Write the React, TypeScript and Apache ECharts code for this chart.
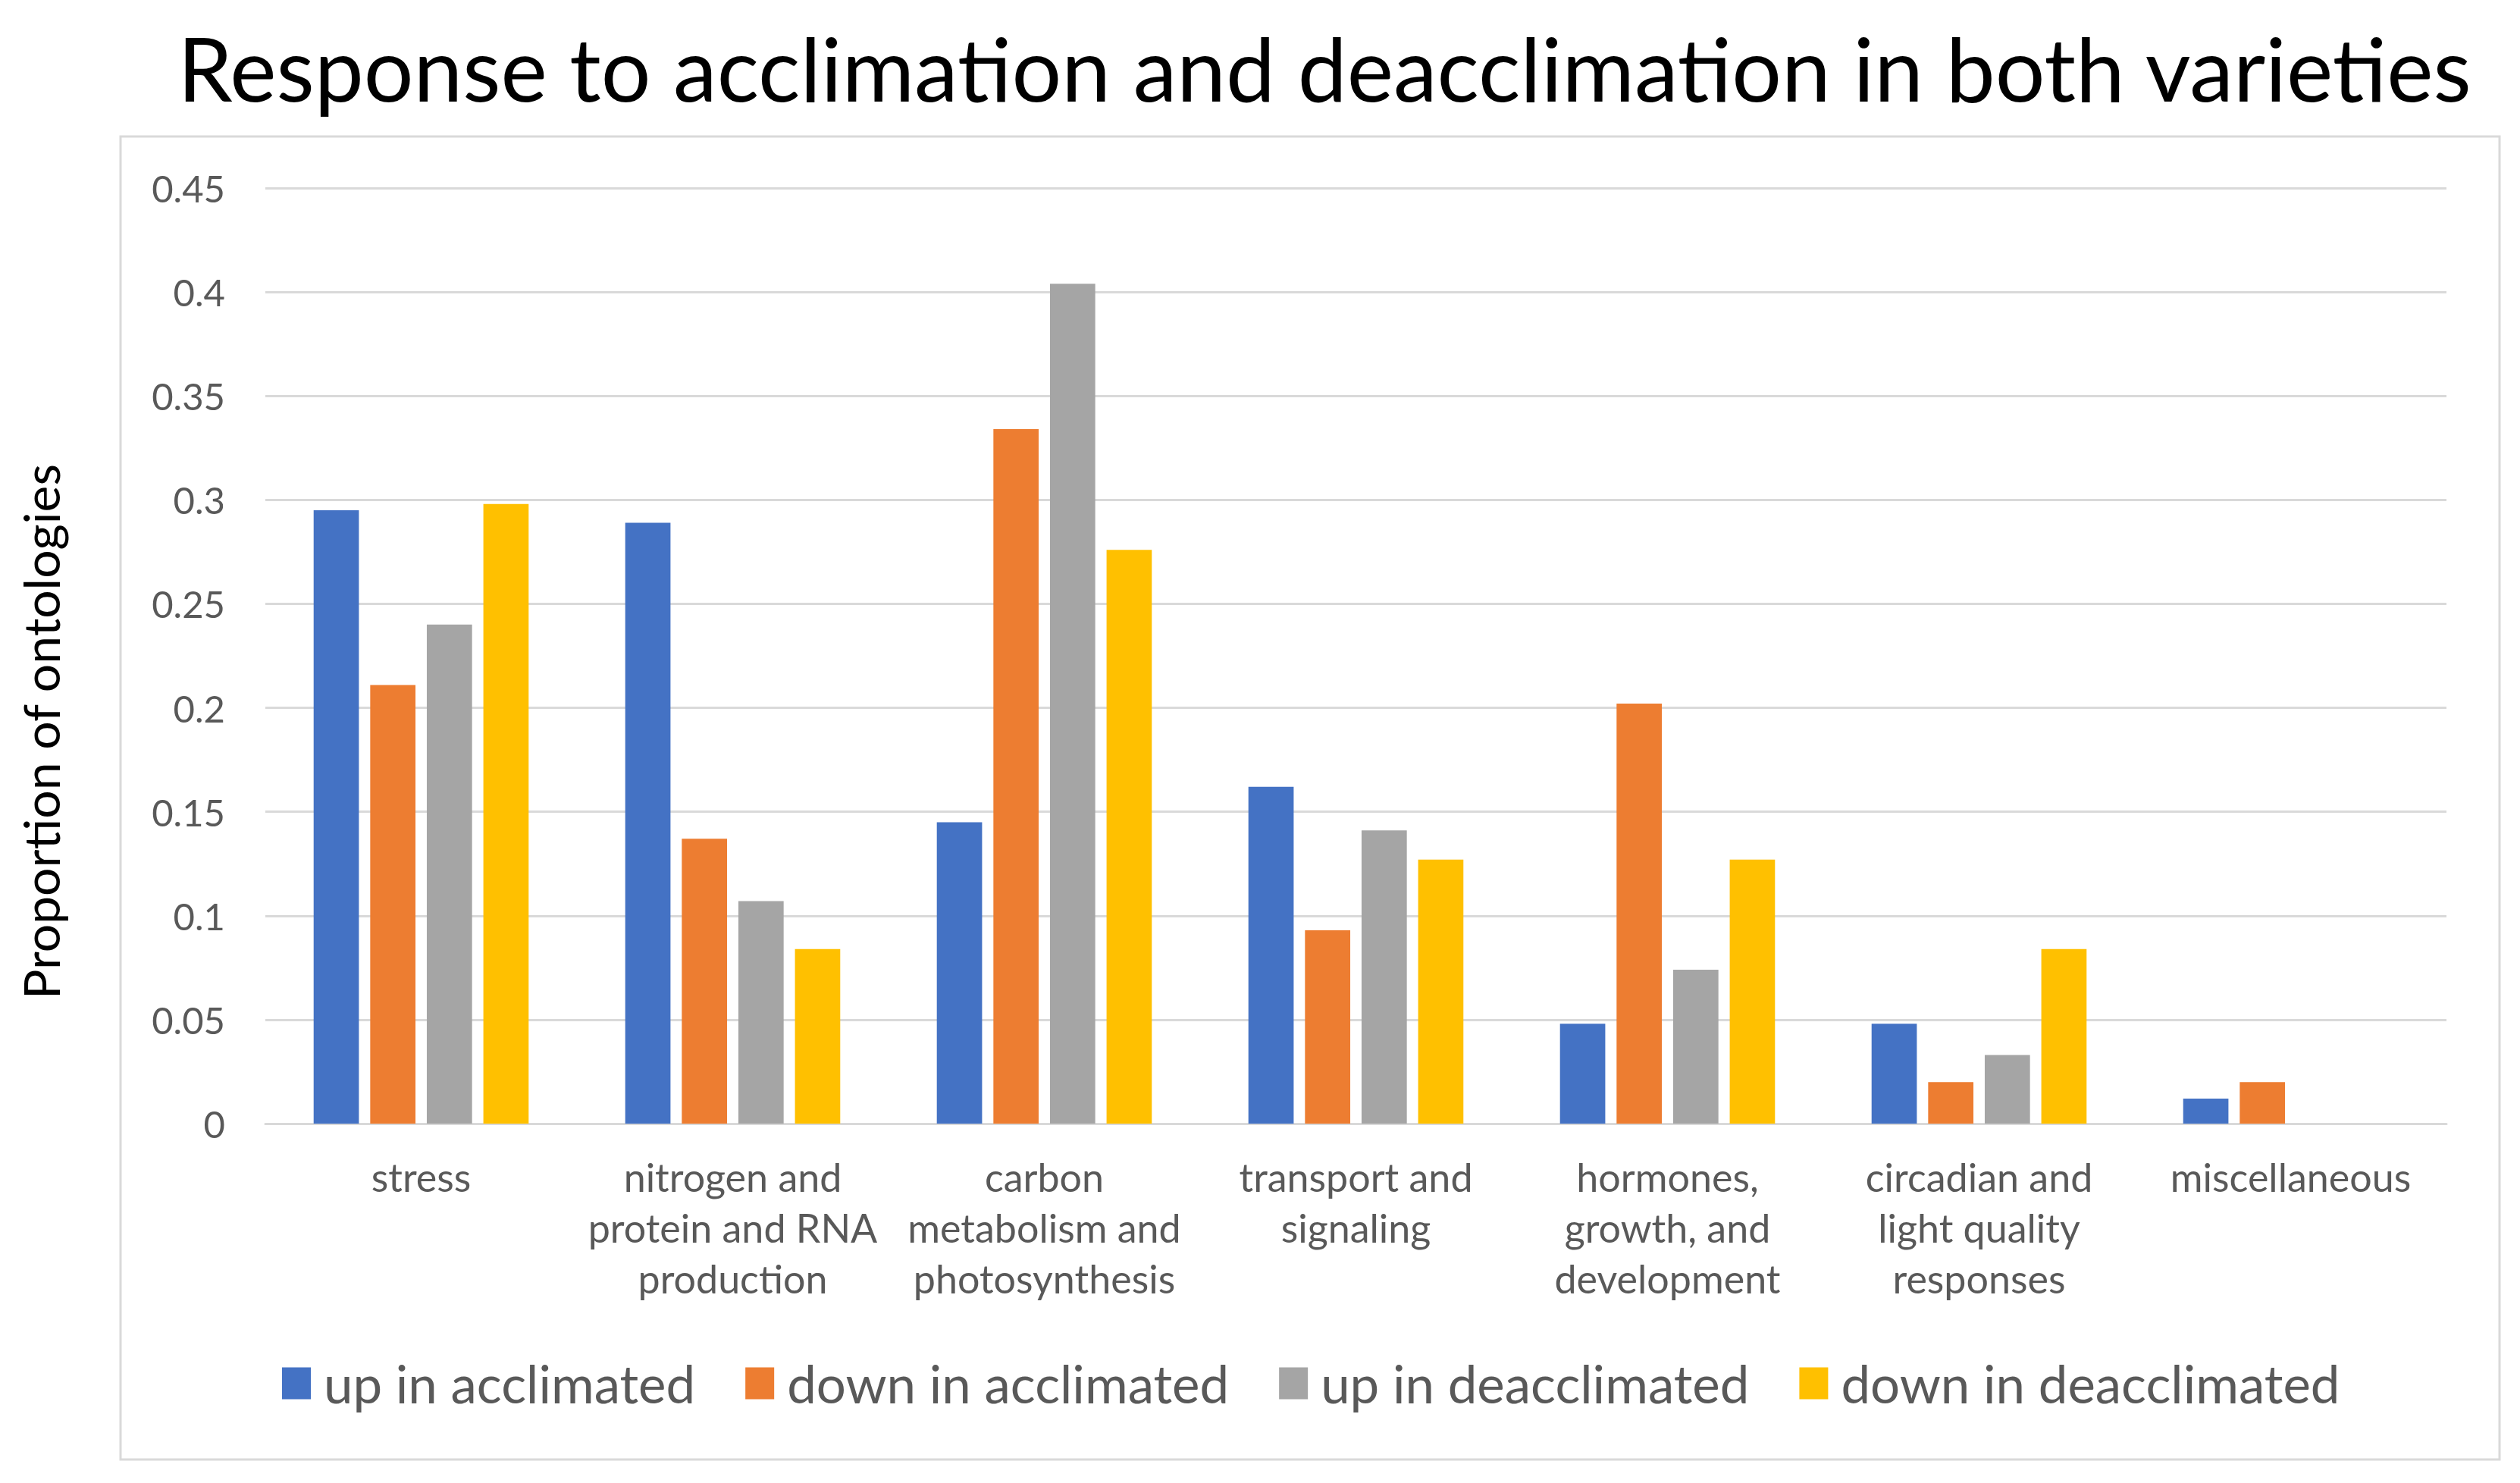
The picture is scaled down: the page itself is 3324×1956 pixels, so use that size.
import React, { useEffect, useRef } from "react";
import * as echarts from "echarts";

const categories = [
  "stress",
  "nitrogen and\nprotein and RNA\nproduction",
  "carbon\nmetabolism and\nphotosynthesis",
  "transport and\nsignaling",
  "hormones,\ngrowth, and\ndevelopment",
  "circadian and\nlight quality\nresponses",
  "miscellaneous",
];

const seriesNames = [
  "up in acclimated",
  "down in acclimated",
  "up in deacclimated",
  "down in deacclimated",
];

const upAcclimated = [0.295, 0.289, 0.145, 0.162, 0.048, 0.048, 0.012];
const downAcclimated = [0.211, 0.137, 0.334, 0.093, 0.202, 0.02, 0.02];
const upDeacclimated = [0.24, 0.107, 0.404, 0.141, 0.074, 0.033, 0];
const downDeacclimated = [0.298, 0.084, 0.276, 0.127, 0.127, 0.084, 0];

const colors = ["#4472C4", "#ED7D31", "#A5A5A5", "#FFC000"];

const FONT = "Lato, 'Noto Sans', sans-serif";

export default function App() {
  const ref = useRef<HTMLDivElement>(null);

  useEffect(() => {
    document.body.style.margin = "0";
    if (!ref.current) return;
    const chart = echarts.init(ref.current, null, { renderer: "svg" });
    const data = [upAcclimated, downAcclimated, upDeacclimated, downDeacclimated];
    chart.setOption({
      animation: false,
      backgroundColor: "#ffffff",
      title: {
        text: "Response to acclimation and deacclimation in both varieties",
        left: 1742,
        top: 26,
        textAlign: "center",
        textStyle: {
          fontFamily: FONT,
          fontSize: 116,
          fontWeight: "normal",
          color: "#000000",
        },
      },
      graphic: [
        {
          type: "rect",
          shape: { x: 159, y: 180, width: 3138, height: 1745 },
          style: { fill: "none", stroke: "#D9D9D9", lineWidth: 3 },
          silent: true,
          z: -1,
        },
        {
          type: "text",
          x: 53,
          y: 965,
          rotation: Math.PI / 2,
          style: {
            text: "Proportion of ontologies",
            fontFamily: FONT,
            fontSize: 66,
            fill: "#000000",
            align: "center",
            verticalAlign: "middle",
          },
          silent: true,
        },
      ],
      legend: {
        left: 367,
        top: 1823 - 38,
        itemWidth: 38,
        itemHeight: 42,
        itemGap: 66,
        icon: "rect",
        textStyle: {
          fontFamily: FONT,
          fontSize: 69,
          color: "#595959",
          padding: [0, 0, 0, 12],
        },
        data: seriesNames,
      },
      grid: { left: 350, right: 97, top: 248, bottom: 474, containLabel: false },
      xAxis: {
        type: "category",
        data: categories,
        axisLine: { show: true, lineStyle: { color: "#D9D9D9", width: 3 } },
        axisTick: { show: false },
        axisLabel: {
          interval: 0,
          margin: 36,
          fontFamily: FONT,
          fontSize: 52,
          lineHeight: 67,
          color: "#595959",
        },
      },
      yAxis: {
        type: "value",
        min: 0,
        max: 0.45,
        interval: 0.05,
        axisLine: { show: false },
        axisTick: { show: false },
        splitLine: { lineStyle: { color: "#D9D9D9", width: 3 } },
        axisLabel: {
          margin: 53,
          fontFamily: FONT,
          fontSize: 49,
          color: "#595959",
          formatter: (v: number) => String(Math.round(v * 100) / 100),
        },
      },
      series: seriesNames.map((name, i) => ({
        name,
        type: "bar",
        data: data[i],
        barGap: "25%",
        barCategoryGap: "31%",
        itemStyle: { color: colors[i] },
      })),
    });
    return () => chart.dispose();
  }, []);

  return <div ref={ref} style={{ width: 3324, height: 1956 }} />;
}
